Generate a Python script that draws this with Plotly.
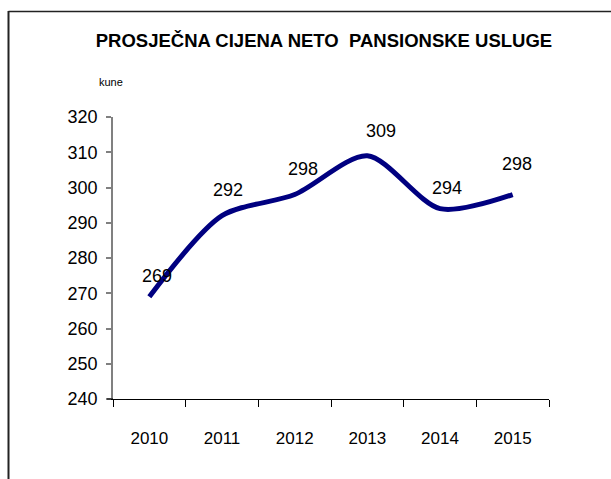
import plotly.graph_objects as go

years = ["2010", "2011", "2012", "2013", "2014", "2015"]
prices = [269, 292, 298, 309, 294, 298]
y_ticks = [240, 250, 260, 270, 280, 290, 300, 310, 320]
title_text = "PROSJEČNA CIJENA NETO\u00a0\u00a0PANSIONSKE USLUGE"
unit_text = "kune"

# label placement offsets in pixels (style only)
label_dx = [8, 6, 8, 14, 7, 4]
label_dy = [21, 26, 26, 25, 21, 31]

W, H = 611, 479
L, R, T, B = 113, 62, 117, 80
pw, ph = W - L - R, H - T - B

def px_x(x):
    return (x - L) / pw

def px_y(y):
    return (H - B - y) / ph

fig = go.Figure()
fig.add_trace(go.Scatter(
    x=years, y=prices, mode="lines",
    line=dict(color="#000080", width=5, shape="spline", smoothing=0.8),
    hoverinfo="x+y", showlegend=False,
))

for i, yv in enumerate(prices):
    fig.add_annotation(x=i, y=yv, xref="x", yref="y", text=str(yv), showarrow=False,
                       xshift=label_dx[i], yshift=label_dy[i],
                       font=dict(family="Liberation Sans, Arial, sans-serif", size=18, color="#000000"))

fig.add_annotation(xref="paper", yref="paper", x=px_x(97), y=px_y(82),
                   xanchor="left", yanchor="middle", text=unit_text, showarrow=False,
                   font=dict(family="Liberation Sans, Arial, sans-serif", size=11, color="#000000"))

# frame lines
fig.add_shape(type="line", xref="paper", yref="paper",
              x0=px_x(8.5), x1=px_x(W + 5), y0=px_y(11.5), y1=px_y(11.5),
              line=dict(color="#222222", width=1.5))
fig.add_shape(type="line", xref="paper", yref="paper",
              x0=px_x(8.5), x1=px_x(8.5), y0=px_y(11), y1=px_y(H + 5),
              line=dict(color="#222222", width=2))
# x axis line overshoot to the left
fig.add_shape(type="line", xref="paper", yref="paper",
              x0=px_x(107), x1=0, y0=0, y1=0,
              line=dict(color="#000000", width=1))

fig.update_layout(
    width=W, height=H,
    margin=dict(l=L, r=R, t=T, b=B),
    paper_bgcolor="white", plot_bgcolor="white",
    title=dict(text="<b>" + title_text + "</b>", x=324 / W, xanchor="center",
               y=1 - 41 / H, yanchor="middle", yref="container",
               font=dict(family="Liberation Sans, Arial, sans-serif", size=18.5, color="#000000")),
    xaxis=dict(type="category", range=[-0.5, 5.5], showgrid=False, zeroline=False,
               showline=True, linecolor="#000000", linewidth=1,
               ticks="outside", tickson="boundaries", ticklen=7, tickcolor="#000000", tickwidth=1,
               ticklabelstandoff=24,
               tickfont=dict(family="Liberation Sans, Arial, sans-serif", size=17, color="#000000")),
    yaxis=dict(range=[240, 320], tickvals=y_ticks, showgrid=False, zeroline=False,
               showline=True, linecolor="#808080", linewidth=1.5,
               ticks="outside", ticklen=5, tickcolor="#808080", tickwidth=1.5,
               ticklabelstandoff=5,
               tickfont=dict(family="Liberation Sans, Arial, sans-serif", size=18, color="#000000")),
)

fig.write_html("out.html", config={"displayModeBar": False},
               post_script="document.body.style.margin='0';")
